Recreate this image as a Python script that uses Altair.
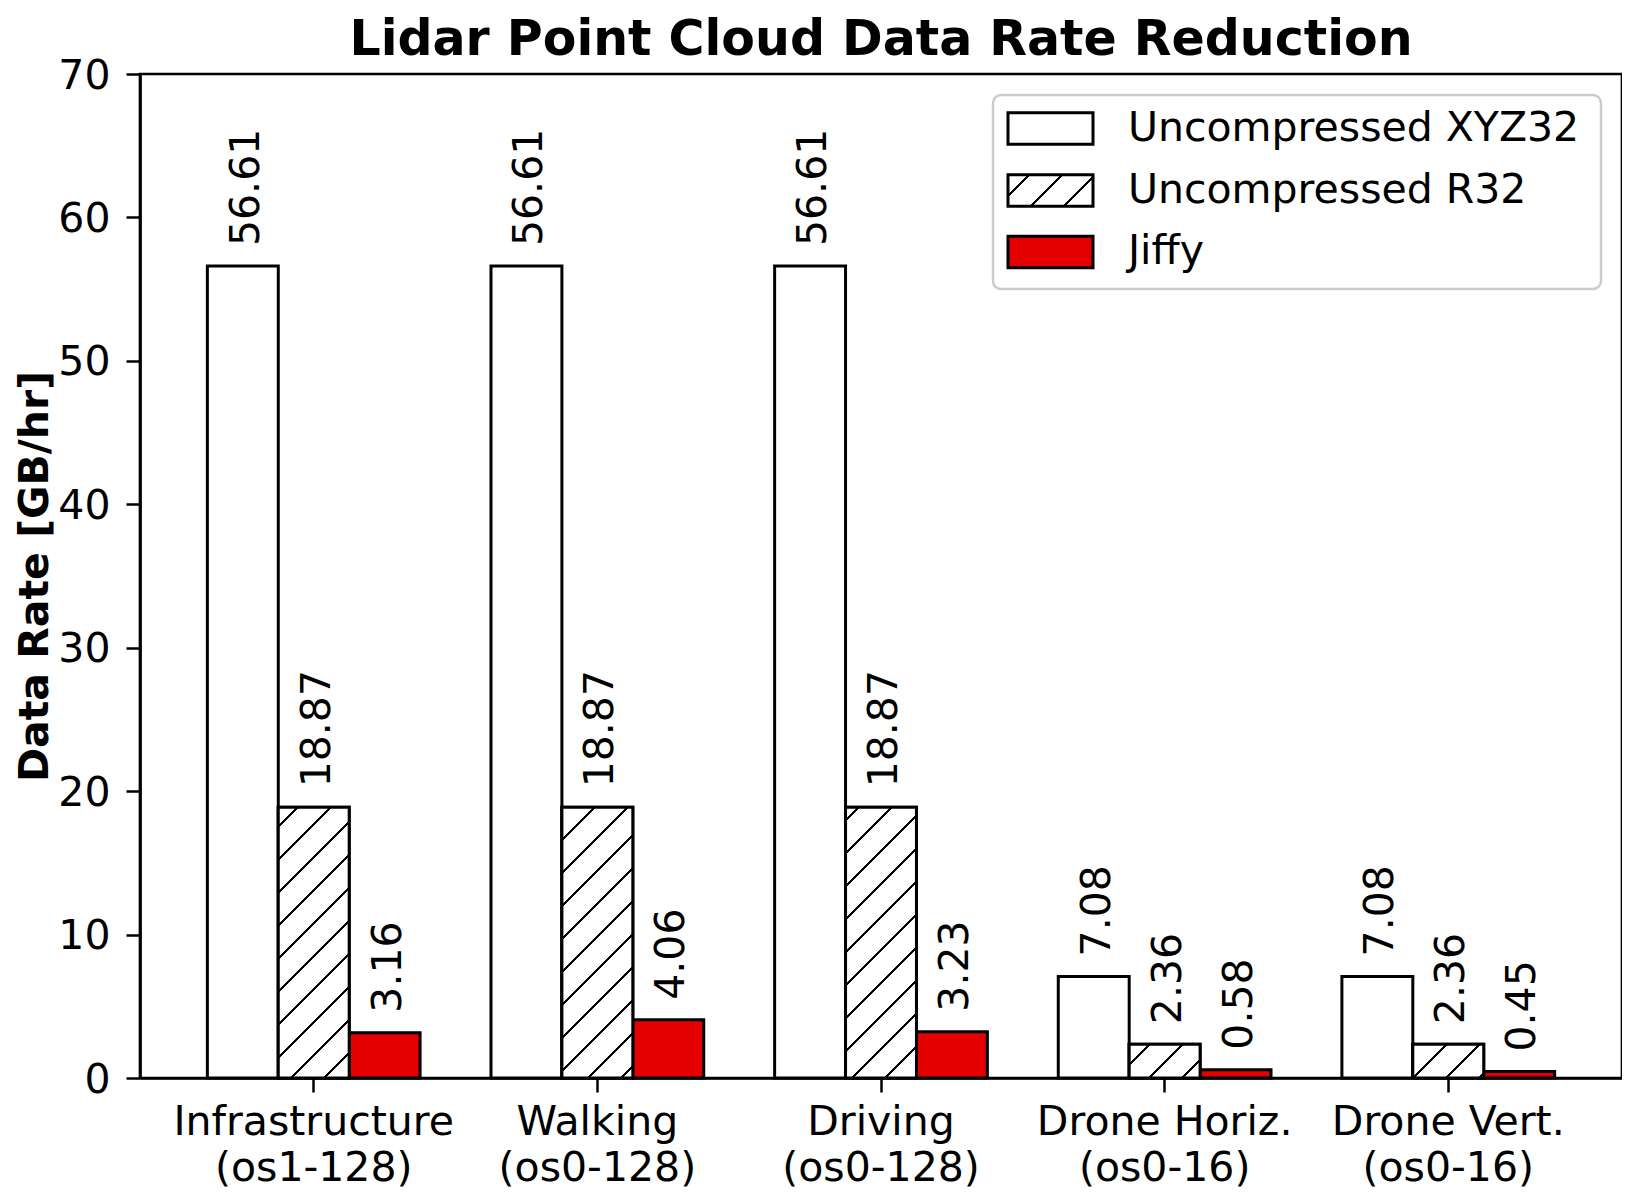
import altair as alt
import pandas as pd

# ---------------- data ----------------
categories = [
    "Infrastructure|(os1-128)",
    "Walking|(os0-128)",
    "Driving|(os0-128)",
    "Drone Horiz.|(os0-16)",
    "Drone Vert.|(os0-16)",
]
series = ["Uncompressed XYZ32", "Uncompressed R32", "Jiffy"]
xyz32 = [56.61, 56.61, 56.61, 7.08, 7.08]
r32 = [18.87, 18.87, 18.87, 2.36, 2.36]
jiffy = [3.16, 4.06, 3.23, 0.58, 0.45]
y_ticks = [0, 10, 20, 30, 40, 50, 60, 70]
title_text = "Lidar Point Cloud Data Rate Reduction"
y_title = "Data Rate [GB/hr]"

# ---------------- layout / style ----------------
W, H = 1482, 1004
YMAX = 70
P_IN, P_OUT = 0.25, 0.2375
FONT = "DejaVu Sans"
FS = 41
RED = "#e50000"
EDGE = 3.0

rows = []
for i, c in enumerate(categories):
    for s, vals in zip(series, [xyz32, r32, jiffy]):
        rows.append({"category": c, "series": s, "value": vals[i]})
df = pd.DataFrame(rows)

step = W / (len(categories) - P_IN + 2 * P_OUT)
bar_w = step * (1 - P_IN) / len(series)


def hatch(x0, y0, w, h, period=33.0, lw=3.3, phase=0.0):
    """45-degree '/' hatch as a hard-stop linear gradient (bbox units)."""
    total = w + h
    k = w * total / (w * w + h * h)
    stops = [{"offset": 0, "color": "white"}]
    s = (phase - (x0 + y0)) % period - period
    while s - lw / 2 < total:
        a = (s - lw / 2) / total
        b = (s + lw / 2) / total
        if b > 0:
            a = min(max(a, 0.0), 1.0)
            b = min(max(b, 0.0), 1.0)
            stops += [
                {"offset": a, "color": "white"},
                {"offset": a, "color": "black"},
                {"offset": b, "color": "black"},
                {"offset": b, "color": "white"},
            ]
        s += period
    stops.append({"offset": 1, "color": "white"})
    return {"gradient": "linear", "x1": 0, "y1": 0, "x2": k, "y2": k * h / w, "stops": stops}


x_enc = alt.X(
    "category:N",
    sort=categories,
    scale=alt.Scale(domain=categories, paddingInner=P_IN, paddingOuter=P_OUT, round=False),
    axis=alt.Axis(
        title=None,
        labelExpr="split(datum.label, '|')",
        labelAngle=0,
        labelFont=FONT,
        labelFontSize=FS,
        labelLineHeight=46,
        labelPadding=10,
        labelLimit=2000,
        labelOverlap=False,
        labelColor="black",
        tickSize=14,
        tickWidth=2.5,
        tickColor="black",
        domainColor="black",
        domainWidth=2.7,
        grid=False,
    ),
)
xo_enc = alt.XOffset(
    "series:N",
    sort=series,
    scale=alt.Scale(domain=series, paddingInner=0, paddingOuter=0),
)
y_enc = alt.Y(
    "value:Q",
    scale=alt.Scale(domain=[0, YMAX], nice=False, zero=True),
    axis=alt.Axis(
        values=y_ticks,
        format="d",
        title=y_title,
        titleFont=FONT,
        titleFontSize=FS,
        titleFontWeight="bold",
        titleColor="black",
        titleX=-93,
        titleY=H / 2,
        titleAngle=270,
        titleAlign="center",
        titleBaseline="alphabetic",
        labelFont=FONT,
        labelFontSize=FS,
        labelColor="black",
        labelPadding=16,
        labelOffset=2,
        tickSize=14,
        tickWidth=2.5,
        tickColor="black",
        domainColor="black",
        domainWidth=2.7,
        grid=False,
    ),
)

base = alt.Chart(df)

bars = base.mark_bar(stroke="black", strokeWidth=EDGE).encode(
    x=x_enc,
    xOffset=xo_enc,
    y=y_enc,
    fill=alt.Fill("series:N", scale=alt.Scale(domain=series, range=["white", "white", RED]), legend=None),
)

layers = [bars]

# hatched R32 bars
for i, c in enumerate(categories):
    v = r32[i]
    x0 = step * (P_OUT + i) + bar_w
    h = H * v / YMAX
    y0 = H - h
    layers.append(
        base.transform_filter(alt.FieldEqualPredicate(field="category", equal=c))
        .transform_filter(alt.FieldEqualPredicate(field="series", equal=series[1]))
        .mark_bar(fill=hatch(x0, y0, bar_w, h), stroke="black", strokeWidth=EDGE)
        .encode(x=x_enc, xOffset=xo_enc, y=y_enc)
    )

labels = base.mark_text(
    angle=270, align="left", baseline="middle", dx=20, dy=4,
    font=FONT, fontSize=FS, color="black",
).encode(x=x_enc, xOffset=xo_enc, y=y_enc, text=alt.Text("value:Q", format=".2f"))
layers.append(labels)

# ---------------- legend ----------------
LX0, LX1, LY0, LY1 = W - 629, W - 21, 21, 21 + 194
SYM_X0 = W - 614
SYM_W, SYM_H = 85, 31.6
TXT_X = W - 494
row_c = [LY0 + 33.5, LY0 + 95.5, LY0 + 157]

leg_df = pd.DataFrame({"series": series})
legend_box = alt.Chart(leg_df.head(1)).mark_rect(
    fill="white", fillOpacity=0.8, stroke="#cccccc", strokeWidth=2.5, cornerRadius=8
).encode(x=alt.value(LX0), x2=alt.value(LX1), y=alt.value(LY0), y2=alt.value(LY1))
layers.append(legend_box)

sym_fills = [
    "white",
    hatch(SYM_X0, row_c[1] - SYM_H / 2, SYM_W, SYM_H),
    RED,
]
for r, s in enumerate(series):
    sub = alt.Chart(leg_df).transform_filter(alt.FieldEqualPredicate(field="series", equal=s))
    layers.append(
        sub.mark_rect(fill=sym_fills[r], stroke="black", strokeWidth=EDGE).encode(
            x=alt.value(SYM_X0), x2=alt.value(SYM_X0 + SYM_W),
            y=alt.value(row_c[r] - SYM_H / 2), y2=alt.value(row_c[r] + SYM_H / 2),
        )
    )
    layers.append(
        sub.mark_text(align="left", baseline="middle", font=FONT, fontSize=FS, color="black").encode(
            x=alt.value(TXT_X), y=alt.value(row_c[r]), text="series:N"
        )
    )

# ---------------- title (as a text mark above the plot) ----------------
title_layer = alt.Chart(pd.DataFrame({"t": [title_text]})).mark_text(
    align="center", baseline="alphabetic", font=FONT, fontSize=49, fontWeight="bold", color="black"
).encode(x=alt.value(W / 2), y=alt.value(-19.5), text="t:N")
layers.append(title_layer)

chart = (
    alt.layer(*layers)
    .properties(
        width=W,
        height=H,
        autosize=alt.AutoSizeParams(type="none"),
        padding={"left": 132, "top": 66, "right": 0, "bottom": 112},
        background="white",
    )
    .configure_view(stroke="black", strokeWidth=2.7)
)

chart.save("out.html", embed_options={"renderer": "svg", "actions": False})
